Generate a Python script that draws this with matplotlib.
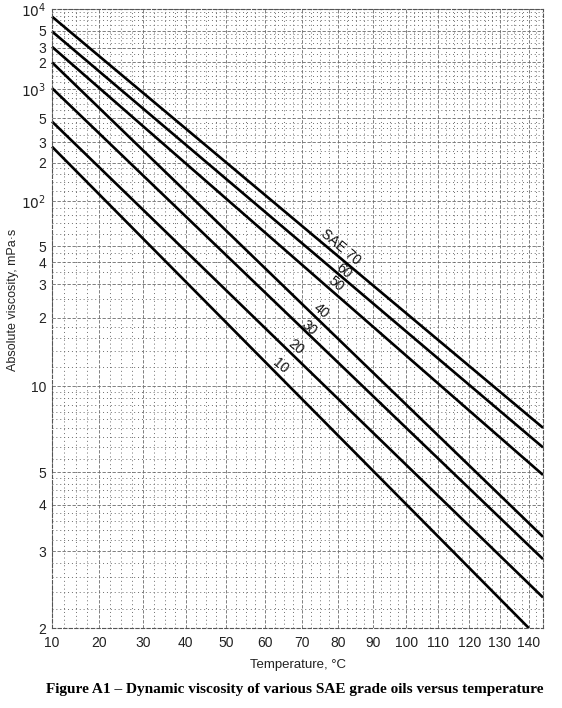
import numpy as np
import matplotlib
matplotlib.use("Agg")
import matplotlib.pyplot as plt

# ---------------------------------------------------
# Data (viscosity in mPa.s)
# each grade: straight line from left edge to right end
# ---------------------------------------------------
grades = ["10", "20", "30", "40", "50", "60", "70"]
temp_start = [10, 10, 10, 10, 10, 10, 10]
visc_start = [273, 465, 1020, 2000, 3100, 4900, 7800]
temp_end = [140, 145, 145, 145, 145, 145, 145]
visc_end = [2.0, 2.33, 2.87, 3.27, 4.9, 6.0, 7.0]

# label text and where it sits along each line
label_text = ["10", "20", "30", "40", "50", "60", "SAE 70"]
label_temp = [64.2, 68.2, 71.8, 75.1, 79.3, 81.7, 80.7]
label_visc = [12.1, 14.6, 18.0, 21.7, 30.0, 35.6, 49.0]

x_ticks = [10, 20, 30, 40, 50, 60, 70, 80, 90, 100, 110, 120, 130, 140]
y_ticks = [2, 3, 4, 5, 10, 20, 30, 40, 50, 100, 200, 300, 500,
           1000, 2000, 3000, 5000, 10000]
y_labels = ["2", "3", "4", "5", "10", "2", "3", "4", "5", r"$10^2$",
            "2", "3", "5", r"$10^3$", "2", "3", "5", r"$10^4$"]


# ---------------------------------------------------
# Chart scales: log temperature, double-log viscosity
# ---------------------------------------------------
def x_fwd(t):
    t = np.asarray(t, dtype=float)
    with np.errstate(all="ignore"):
        return np.log10(t + 185.0)


def x_inv(u):
    return 10.0 ** np.asarray(u, dtype=float) - 185.0


def y_fwd(v):
    v = np.asarray(v, dtype=float)
    with np.errstate(all="ignore"):
        return np.log10(np.log10(v + 0.7))


def y_inv(u):
    return 10.0 ** (10.0 ** np.asarray(u, dtype=float)) - 0.7


fig = plt.figure(figsize=(5.62, 7.08), dpi=100)
ax = fig.add_axes([52 / 562, 1 - 628 / 708, 491 / 562, 619 / 708])
ax.set_xscale("function", functions=(x_fwd, x_inv))
ax.set_yscale("function", functions=(y_fwd, y_inv))
ax.set_xlim(10, 145)
ax.set_ylim(2, 10000)

# grid (chart paper)
x_minor = np.arange(10, 145.1, 2.5)
y_minor = np.concatenate([
    np.arange(2, 5, 0.2), np.arange(5, 10, 0.5),
    np.arange(10, 20, 2), np.arange(20, 50, 5), np.arange(50, 100, 10),
    np.arange(100, 200, 20), np.arange(200, 500, 50), np.arange(500, 1000, 100),
    np.arange(1000, 2000, 200), np.arange(2000, 5000, 500), np.arange(5000, 10001, 1000),
])
ax.set_xticks(x_ticks)
ax.set_xticks(x_minor, minor=True)
ax.set_yticks(y_ticks, y_labels)
ax.set_yticks(y_minor, minor=True)
ax.tick_params(which="both", length=0, labelsize=10, colors="#222222")
ax.tick_params(axis="y", pad=4)
ax.tick_params(axis="x", pad=6)
ax.grid(which="minor", color="#6e6e6e", linestyle=(0, (1, 3)), linewidth=0.7)
ax.grid(which="major", color="#6a6a6a", linestyle=(0, (4, 2)), linewidth=0.6)
for side in ax.spines.values():
    side.set_color("#555555")
    side.set_linestyle((0, (3, 2)))
    side.set_linewidth(0.8)

# grade lines
for i in range(len(grades)):
    ax.plot([temp_start[i], temp_end[i]], [visc_start[i], visc_end[i]],
            color="black", linewidth=1.9, solid_capstyle="butt", clip_on=False)

for txt, t, v in zip(label_text, label_temp, label_visc):
    ax.text(t, v, txt, rotation=-40, rotation_mode="anchor",
            ha="center", va="center", fontsize=10, color="#111111",
            family="Liberation Sans")

for lab in ax.get_xticklabels() + ax.get_yticklabels():
    lab.set_family("Liberation Sans")

ax.set_xlabel("Temperature, \u00b0C", fontsize=9.5, family="Liberation Sans",
              labelpad=6, color="#222222")
ax.set_ylabel("Absolute viscosity, mPa\u00b7s", fontsize=9, family="Liberation Sans",
              color="#222222")
ax.yaxis.set_label_coords(-0.068, 0.53)

fig.text(0.525, 1 - 690 / 708,
         "Figure A1 \u2013 Dynamic viscosity of various SAE grade oils versus temperature",
         ha="center", va="center", fontsize=11, fontweight="bold",
         family="Liberation Serif")

fig.savefig("out.png", dpi=100)
